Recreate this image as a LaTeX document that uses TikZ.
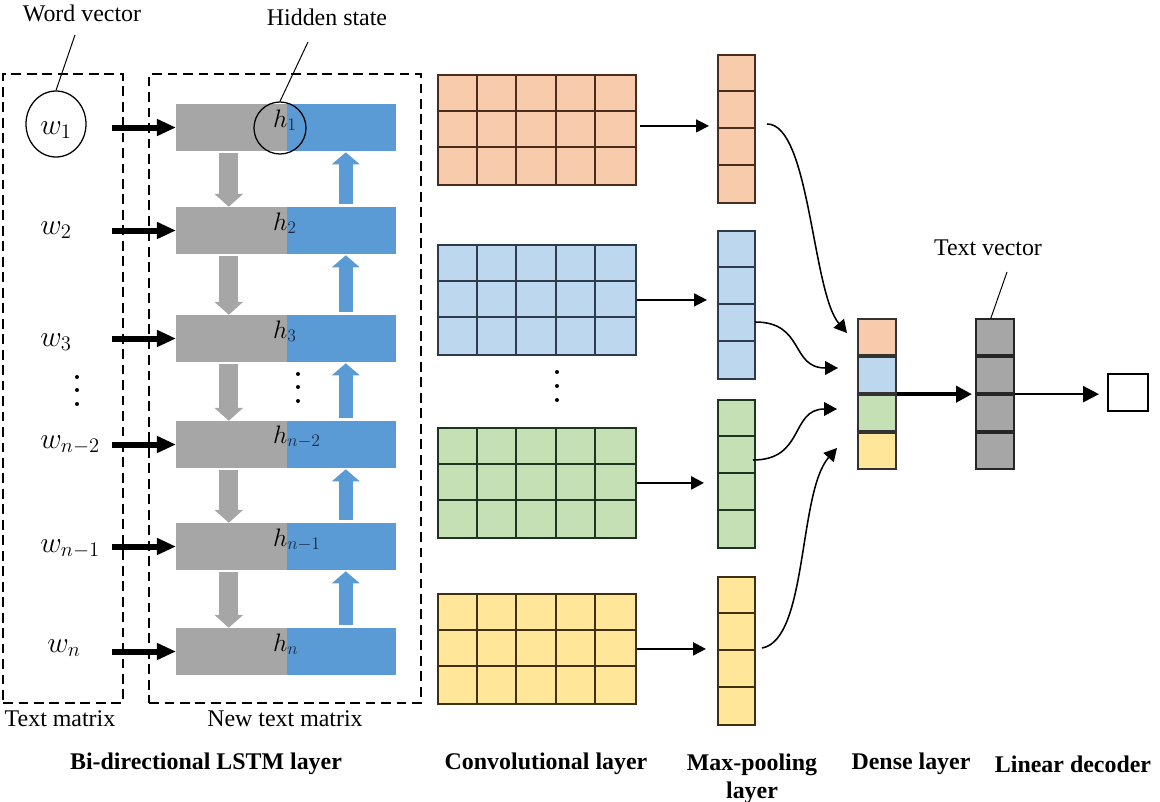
\RequirePackage{fix-cm}
\documentclass[tikz,border=0pt]{standalone}
\usepackage{fontspec}
\setmainfont{Liberation Serif}
\usetikzlibrary{arrows.meta,shapes.geometric}
\definecolor{lgray}{HTML}{A6A6A6}
\definecolor{lblue}{HTML}{5B9BD5}
\definecolor{forg}{HTML}{F8CBAD}
\definecolor{fblu}{HTML}{BDD7EE}
\definecolor{fgrn}{HTML}{C5E0B4}
\definecolor{fyel}{HTML}{FFE699}
\definecolor{korg}{HTML}{4A2C1E}
\definecolor{kblu}{HTML}{2E3B4E}
\definecolor{kgrn}{HTML}{1E3320}
\definecolor{kyel}{HTML}{3E3010}
\definecolor{subnavy}{HTML}{1B2A44}
\def\pu{0.025cm}
\newcommand\convgrid[4]{% name, top y, fill, line
  \node[draw=#4, fill=#3, line width=1.3pt, minimum width=198*\pu, minimum height=110*\pu, inner sep=0, anchor=north west] (#1) at (437,#2) {};
  \foreach \i in {1,2,3,4} {\draw[#4, line width=1.3pt] ([xshift=\i*39.6*\pu]#1.north west) -- ([xshift=\i*39.6*\pu]#1.south west);}
  \foreach \j in {1,2} {\draw[#4, line width=1.3pt] ([yshift=-\j*36.67*\pu]#1.north west) -- ([yshift=-\j*36.67*\pu]#1.north east);}
}
\newcommand\poolcol[4]{% name, top y, fill, line
  \node[draw=#4, fill=#3, line width=1.3pt, minimum width=37*\pu, minimum height=148*\pu, inner sep=0, anchor=north west] (#1) at (717,#2) {};
  \foreach \j in {1,2,3} {\draw[#4, line width=1.3pt] ([yshift=-\j*37*\pu]#1.north west) -- ([yshift=-\j*37*\pu]#1.north east);}
}
\begin{document}
\begin{tikzpicture}[x=0.025cm,y=-0.025cm,
  graypart/.style={fill=lgray, minimum width=111*\pu, minimum height=47*\pu, inner sep=0, anchor=west},
  bluepart/.style={fill=lblue, minimum width=109*\pu, minimum height=47*\pu, inner sep=0, anchor=west},
  grayarrow/.style={draw=lgray, line width=19*\pu, -{Triangle[length=3.2mm,width=7mm]}},
  bluearrow/.style={draw=lblue, line width=14*\pu, -{Triangle[length=3mm,width=6.8mm]}},
  inarrow/.style={draw=black, line width=1.5mm, -{Triangle[length=4.8mm,width=4mm]}},
  dashbox/.style={draw, dashed, line width=1.5pt, dash pattern=on 7pt off 4pt},
  lab/.style={font=\fontsize{17}{20}\selectfont, inner sep=0},
  blab/.style={font=\fontsize{17}{20}\selectfont\bfseries, inner sep=0, align=center},
  wlab/.style={font=\fontsize{21}{24}\selectfont, inner sep=0},
  hlab/.style={font=\fontsize{18}{20}\selectfont, inner sep=0, anchor=base west},
  thin arrow/.style={draw=black, line width=1pt, -{Triangle[length=3.2mm,width=3.2mm]}},
  curve arrow/.style={draw=black, line width=1.1pt, -{Triangle[length=3.2mm,width=3.4mm]}},
  dot/.style={circle, fill=black, inner sep=0, minimum size=4*\pu}
]
\useasboundingbox (0,0) rectangle (1160,802);

% dashed boxes
\node[dashbox, minimum width=120*\pu, minimum height=629*\pu, inner sep=0, anchor=north west] (tm) at (2,73) {};
\node[dashbox, minimum width=272*\pu, minimum height=629*\pu, inner sep=0, anchor=north west] (ntm) at (148,73) {};

% LSTM bars
\foreach \k/\y in {1/127.5,2/230.5,3/338.5,4/444.5,5/546.5,6/651.5} {
  \node[graypart] (g\k) at (176,\y) {};
  \node[bluepart] (b\k) at (287,\y) {};
}
\foreach \a/\b in {1/2,2/3,3/4,4/5,5/6} {
  \draw[grayarrow, shorten <=2*\pu] ([xshift=-3*\pu]g\a.south) -- ([xshift=-3*\pu]g\b.north);
  \draw[bluearrow, shorten <=3*\pu, shorten >=1*\pu] ([xshift=4*\pu]b\b.north) -- ([xshift=4*\pu]b\a.south);
}
% h labels
\node[hlab] (h1) at (287,127) {\llap{$h$}\textcolor{subnavy}{$_{1}$}};
\node[hlab] (h2) at (287,230) {\llap{$h$}\textcolor{subnavy}{$_{2}$}};
\node[hlab] (h3) at (287,338) {\llap{$h$}\textcolor{subnavy}{$_{3}$}};
\node[hlab] (h4) at (287,443) {\llap{$h$}\textcolor{subnavy}{$_{n-2}$}};
\node[hlab] (h5) at (287,546) {\llap{$h$}\textcolor{subnavy}{$_{n-1}$}};
\node[hlab] (h6) at (287,651) {\llap{$h$}\textcolor{subnavy}{$_{n}$}};
\node[circle, draw, line width=0.9pt, minimum size=52*\pu, inner sep=0] (hc) at (280,128) {};

% word labels
\node[ellipse, draw, line width=0.9pt, minimum width=60*\pu, minimum height=66*\pu, inner sep=0] (wc) at (56,124) {};
\node[wlab, anchor=base west] (w1) at (40,134) {$w_1$};
\node[wlab, anchor=base west] (w2) at (40,234) {$w_2$};
\node[wlab, anchor=base west] (w3) at (40,346) {$w_3$};
\node[wlab, anchor=base west] (w4) at (40,448) {$w_{n-2}$};
\node[wlab, anchor=base west] (w5) at (40,552) {$w_{n-1}$};
\node[wlab, anchor=base west] (w6) at (47,652) {$w_n$};
\foreach \y [count=\i] in {377,390,404} {\node[dot] (ld\i) at (77,\y) {};}
\foreach \y [count=\i] in {374,387,401} {\node[dot] (md\i) at (298,\y) {};}

% input arrows
\coordinate (inx) at (112,0);
\foreach \k in {1,...,6} {\draw[inarrow] (inx |- g\k.west) -- (g\k.west);}

% annotations
\node[lab] (wv) at (82,13) {Word vector};
\draw[line width=0.7pt] (75,35) -- (wc.north);
\node[lab] (hs) at (327,17) {Hidden state};
\draw[line width=0.7pt] (308,42) -- (hc.north);

% conv grids
\convgrid{c1}{74}{forg}{korg}
\convgrid{c2}{244}{fblu}{kblu}
\convgrid{c3}{427}{fgrn}{kgrn}
\convgrid{c4}{593}{fyel}{kyel}
\foreach \y [count=\i] in {372,386,400} {\node[dot] (cd\i) at (557,\y) {};}

% pooling
\poolcol{p1}{54}{forg}{korg}
\poolcol{p2}{230}{fblu}{kblu}
\poolcol{p3}{399}{fgrn}{kgrn}
\poolcol{p4}{576}{fyel}{kyel}

\draw[thin arrow, shorten <=3*\pu, shorten >=8*\pu] ([yshift=4*\pu]c1.east) -- ([yshift=4*\pu]c1.east -| p1.west);
\draw[thin arrow, line width=1.3pt, shorten >=10*\pu] (c2.east) -- (c2.east -| p2.west);
\draw[thin arrow, line width=2pt, shorten >=13*\pu] (c3.east) -- (c3.east -| p3.west);
\draw[thin arrow, line width=1.6pt, shorten >=11*\pu] (c4.east) -- (c4.east -| p4.west);

% dense layer
\node[draw=black!80, line width=1.3pt, fill=forg, minimum width=38*\pu, minimum height=36.25*\pu, inner sep=0, anchor=north west] (d1) at (857,318) {};
\node[draw=black!80, line width=1.3pt, fill=fblu, minimum width=38*\pu, minimum height=36.25*\pu, inner sep=0, anchor=north] (d2) at (d1.south) {};
\node[draw=black!80, line width=1.3pt, fill=fgrn, minimum width=38*\pu, minimum height=36.25*\pu, inner sep=0, anchor=north] (d3) at (d2.south) {};
\node[draw=black!80, line width=1.3pt, fill=fyel, minimum width=38*\pu, minimum height=36.25*\pu, inner sep=0, anchor=north] (d4) at (d3.south) {};

% text vector
\node[draw=black!85, line width=1.3pt, fill=lgray, minimum width=38*\pu, minimum height=36.25*\pu, inner sep=0, anchor=north west] (t1) at (975,318) {};
\node[draw=black!85, line width=1.3pt, fill=lgray, minimum width=38*\pu, minimum height=36.25*\pu, inner sep=0, anchor=north] (t2) at (t1.south) {};
\node[draw=black!85, line width=1.3pt, fill=lgray, minimum width=38*\pu, minimum height=36.25*\pu, inner sep=0, anchor=north] (t3) at (t2.south) {};
\node[draw=black!85, line width=1.3pt, fill=lgray, minimum width=38*\pu, minimum height=36.25*\pu, inner sep=0, anchor=north] (t4) at (t3.south) {};
\node[lab] (tvl) at (988,248) {Text vector};
\draw[line width=0.7pt] (1007,272) -- ([xshift=-4*\pu]t1.north);

% output box
\node[draw=black, line width=1.3pt, fill=white, minimum width=40*\pu, minimum height=37*\pu, inner sep=0, anchor=north west] (out) at (1107,373) {};

% curved arrows into dense layer
\coordinate (e1) at (847,333);
\coordinate (e2) at (838,368);
\coordinate (e3) at (837,409);
\coordinate (e4) at (837,448);
\coordinate (s1) at (767,124);
\coordinate (s2) at (755,322);
\coordinate (s3) at (753,460);
\coordinate (s4) at (762,648);
\draw[curve arrow] (s1) .. controls (810,124) and (812,292) .. (e1);
\draw[curve arrow] (s2) .. controls (805,322) and (790,368) .. (e2);
\draw[curve arrow] (s3) .. controls (805,460) and (790,409) .. (e3);
\draw[curve arrow] (s4) .. controls (808,640) and (798,492) .. (e4);

% dense -> text vector -> output
\draw[draw=black, line width=1mm, -{Triangle[length=4mm,width=4mm]}, shorten >=3*\pu] (d2.south east) -- (d2.south east -| t1.west);
\draw[draw=black, line width=0.6mm, -{Triangle[length=4mm,width=4mm]}, shorten >=8*\pu] (t2.south east) -- (t2.south east -| out.west);

% bottom labels
\node[lab] (ltm) at (60,719) {Text matrix};
\node[lab] (lntm) at (285,719) {New text matrix};
\node[blab] (l1) at (206,764) {Bi-directional LSTM layer};
\node[blab] (l2) at (546,764) {Convolutional layer};
\node[blab, anchor=north] (l3) at (752,754) {Max-pooling\\layer};
\node[blab] (l4) at (911,764) {Dense layer};
\node[blab] (l5) at (1073,764) {Linear decoder};
\end{tikzpicture}
\end{document}
